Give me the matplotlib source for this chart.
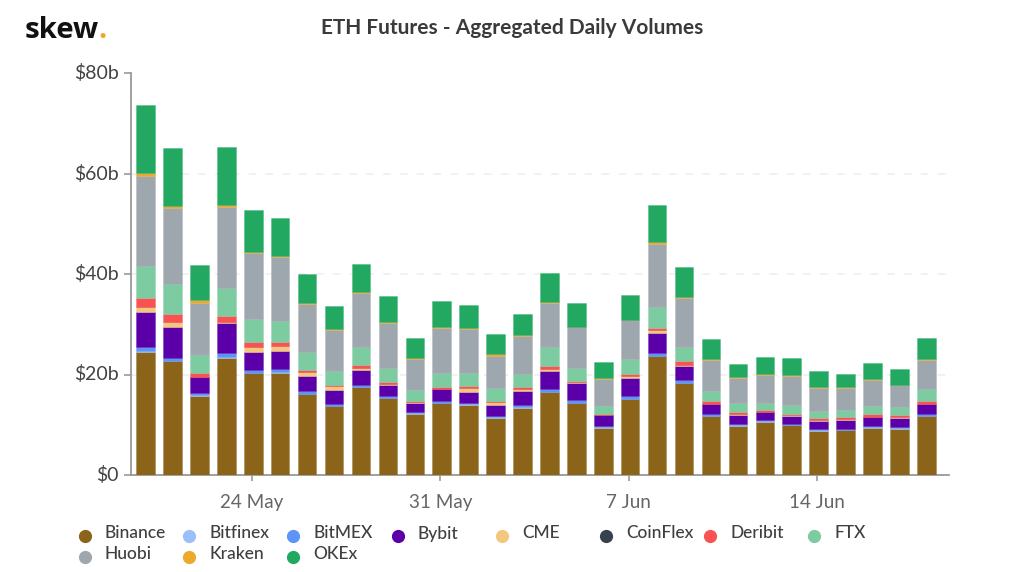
import matplotlib
matplotlib.use("Agg")
import matplotlib.pyplot as plt
from matplotlib.lines import Line2D
from matplotlib.colors import to_rgba
from matplotlib.transforms import ScaledTranslation
import numpy as np

plt.rcParams['font.family'] = ['Lato', 'DejaVu Sans']

dates = ["20 May","21 May","22 May","23 May","24 May","25 May","26 May","27 May","28 May","29 May",
         "30 May","31 May","1 Jun","2 Jun","3 Jun","4 Jun","5 Jun","6 Jun","7 Jun","8 Jun",
         "9 Jun","10 Jun","11 Jun","12 Jun","13 Jun","14 Jun","15 Jun","16 Jun","17 Jun","18 Jun"]
binance = [24.6,22.7,15.8,23.4,20.3,20.4,16.1,13.7,17.5,15.3,12.2,14.3,14.0,11.4,13.4,16.5,14.3,9.4,15.1,23.7,18.3,11.75,9.8,10.6,9.9,8.8,8.9,9.4,9.2,11.7]
bitfinex = [0.1,0.1,0.1,0.1,0.1,0.1,0.1,0.1,0.1,0.1,0.1,0.1,0.1,0.1,0.1,0.1,0.1,0.1,0.1,0.1,0.1,0.1,0.1,0.1,0.1,0.1,0.1,0.1,0.1,0.1]
bitmex = [0.9,0.6,0.4,0.8,0.6,0.6,0.5,0.3,0.4,0.3,0.2,0.4,0.2,0.3,0.4,0.5,0.5,0.3,0.5,0.6,0.5,0.35,0.3,0.3,0.2,0.3,0.2,0.3,0.3,0.3]
bybit = [6.9,6.1,3.2,6.0,3.6,3.7,3.0,2.8,2.9,2.3,1.9,2.3,2.3,2.1,2.8,3.6,3.5,2.1,3.6,3.8,2.9,1.9,1.7,1.5,1.6,1.5,1.8,1.7,1.7,2.0]
cme = [1.0,0.9,0.1,0.1,0.9,0.9,0.8,0.8,0.4,0.1,0.1,0.1,0.8,0.6,0.4,0.5,0.1,0.1,0.4,0.6,0.2,0.1,0.2,0.1,0.1,0.2,0.1,0.1,0.2,0.1]
coinflex = [0.01,0.01,0.01,0.01,0.01,0.01,0.01,0.01,0.01,0.01,0.01,0.01,0.01,0.01,0.01,0.01,0.01,0.01,0.01,0.01,0.01,0.01,0.01,0.01,0.01,0.01,0.01,0.01,0.01,0.01]
deribit = [1.8,1.6,0.8,1.3,1.0,0.7,0.5,0.3,0.7,0.4,0.3,0.3,0.3,0.2,0.4,0.5,0.3,0.2,0.4,0.5,0.7,0.5,0.4,0.3,0.3,0.4,0.4,0.5,0.5,0.6]
ftx = [6.4,6.0,3.5,5.5,4.6,4.3,3.4,2.7,3.5,2.9,2.1,2.9,2.6,2.6,2.6,3.7,2.6,1.6,3.1,4.1,2.7,2.0,1.8,1.4,1.7,1.4,1.5,1.7,1.5,2.3]
huobi = [17.8,15.1,10.4,16.1,13.1,12.7,9.7,8.1,10.7,8.9,6.3,8.9,8.7,6.5,7.6,8.9,8.0,5.4,7.6,12.7,9.8,6.3,5.0,5.7,5.8,4.6,4.4,5.2,4.4,5.8]
kraken = [0.6,0.5,0.5,0.5,0.3,0.3,0.2,0.2,0.3,0.2,0.2,0.2,0.2,0.2,0.1,0.2,0.1,0.1,0.1,0.3,0.2,0.1,0.2,0.2,0.2,0.2,0.2,0.1,0.1,0.2]
okex = [13.7,11.5,7.1,11.5,8.3,7.4,5.7,4.6,5.6,5.2,3.8,5.2,4.7,4.0,4.3,5.7,4.8,3.3,5.0,7.4,6.0,3.9,2.7,3.4,3.4,3.2,2.6,3.2,3.1,4.1]

names = ["Binance","Bitfinex","BitMEX","Bybit","CME","CoinFlex","Deribit","FTX","Huobi","Kraken","OKEx"]
series = [binance,bitfinex,bitmex,bybit,cme,coinflex,deribit,ftx,huobi,kraken,okex]
colors = ["#8B6419","#9DBFF9","#5C94F7","#5B00A8","#F5C77E","#36414D","#FA5252","#7DCBA0","#9EA6AE","#EBA92E","#22A861"]
yticks = [0,20,40,60,80]
ylabels = ["$0","$20b","$40b","$60b","$80b"]
xtick_labels = ["24 May","31 May","7 Jun","14 Jun"]

W, H = 1024, 572
fig = plt.figure(figsize=(W/100, H/100), dpi=100, facecolor="white")
ax = fig.add_axes([131/W, (H-475)/H, 818/W, 401.5/H])

x = np.arange(len(dates))
bottom = np.zeros(len(dates))
for vals, c in zip(series, colors):
    v = np.array(vals, float)
    ax.bar(x, v, bottom=bottom, width=0.69, color=c, edgecolor=to_rgba(c, 0.35), linewidth=0.6, zorder=3)
    bottom += v

ax.set_xlim(-0.54, 29.84)
ax.set_ylim(0, 80)
ax.set_yticks(yticks)
ax.set_yticklabels(ylabels, fontsize=14, color="#444444")
tick_pos = [dates.index(d) - 0.05 for d in xtick_labels]
ax.set_xticks(tick_pos)
ax.set_xticklabels(xtick_labels, fontsize=13.6, color="#666666")
ax.tick_params(axis="y", length=5, width=1.2, color="#999999", pad=3.6)
ax.tick_params(axis="x", length=4.5, width=1.2, color="#999999", pad=9.5)
up = ScaledTranslation(0, 1.2/72, fig.dpi_scale_trans)
for lab in ax.get_yticklabels():
    lab.set_transform(lab.get_transform() + up)
for s in ("top","right"):
    ax.spines[s].set_visible(False)
for s in ("left","bottom"):
    ax.spines[s].set_color("#999999")
    ax.spines[s].set_linewidth(1.3)
ax.grid(axis="y", color="#EEEEEE", linestyle=(0,(5,6)), linewidth=1.1, zorder=0)
ax.set_axisbelow(True)

fig.text(512.5/W, 1-28.5/H, "ETH Futures - Aggregated Daily Volumes", ha="center", va="center",
         fontsize=15.05, fontweight="bold", color="#3a3a3a")

fig.text(25/W, 1-38/H, "skew", ha="left", va="baseline", fontsize=21.2,
         fontweight="bold", family=["Open Sans","DejaVu Sans"], color="#111111")
fig.text(98/W, 1-38/H, ".", ha="left", va="baseline", fontsize=21.2,
         fontweight="bold", family=["Open Sans","DejaVu Sans"], color="#EBA92E")

for i, (n, c) in enumerate(zip(names, colors)):
    col = i if i < 8 else i - 8
    row = 0 if i < 8 else 1
    mx = 85 + 104.2*col
    my = 536 + 20.5*row
    fig.add_artist(Line2D([mx/W],[1-my/H], marker="o", markersize=9.5, color=c, linestyle="none",
                          markeredgecolor="none", transform=fig.transFigure))
    fig.text((mx+20)/W, 1-(my-2.5)/H, n, ha="left", va="center", fontsize=12.5,
             fontweight="medium", color="#3f3f3f")

fig.savefig("out.png", dpi=100)
